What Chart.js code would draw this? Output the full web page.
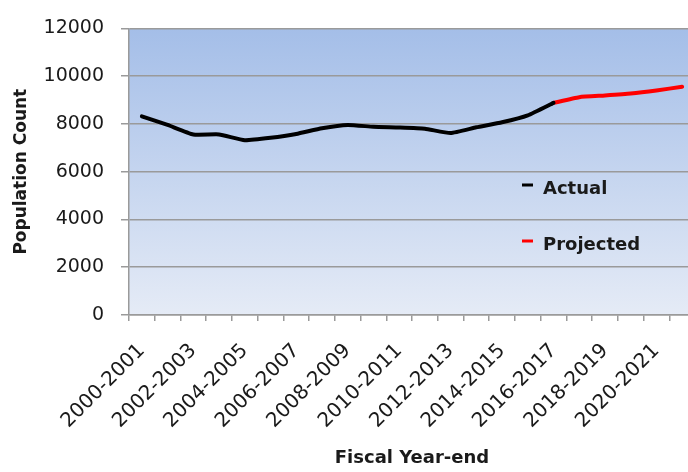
<!DOCTYPE html>
<html>
<head>
<meta charset="utf-8">
<script src="https://cdn.jsdelivr.net/npm/chart.js@4.4.1/dist/chart.umd.min.js"></script>
<style>
  html, body { margin: 0; padding: 0; background: #fff; overflow: hidden; }
  #wrap { width: 700px; height: 472px; }
</style>
</head>
<body>
<div id="wrap"><canvas id="canvas" width="700" height="472"></canvas></div>
<script>
// fiscal years on the x axis
var categories = ['2000-2001', '2001-2002', '2002-2003', '2003-2004', '2004-2005', '2005-2006',
  '2006-2007', '2007-2008', '2008-2009', '2009-2010', '2010-2011', '2011-2012',
  '2012-2013', '2013-2014', '2014-2015', '2015-2016', '2016-2017', '2017-2018',
  '2018-2019', '2019-2020', '2020-2021', '2021-2022'];

// population counts
var actual = [8320, 7960, 7560, 7560, 7320, 7420, 7580, 7820, 7960, 7880, 7850,
  7800, 7620, 7860, 8070, 8360, 8880];
var projected = [null, null, null, null, null, null, null, null, null, null, null,
  null, null, null, null, null, 8880, 9120, 9190, 9270, 9400, 9560];

var yTicks = { min: 0, max: 12000, step: 2000 };

Chart.defaults.font.family = 'DejaVu Sans';
Chart.defaults.color = '#1a1a1a';

// plot area gradient
var bgPlugin = {
  id: 'plotBg',
  beforeDraw: function(chart) {
    var a = chart.chartArea, c = chart.ctx;
    var g = c.createLinearGradient(0, a.top, 0, a.bottom);
    g.addColorStop(0, '#a4bee8');
    g.addColorStop(1, '#e5ebf6');
    c.save();
    c.fillStyle = g;
    c.fillRect(a.left, a.top, a.right - a.left, a.bottom - a.top);
    c.restore();
  }
};

// legend sitting inside the plot, like the original
var insideLegend = {
  id: 'insideLegend',
  afterDraw: function(chart) {
    var a = chart.chartArea, c = chart.ctx;
    var x = a.right - 173, y = 189;
    c.save();
    c.font = 'bold 18px "DejaVu Sans"';
    c.textBaseline = 'middle';
    chart.data.datasets.forEach(function(ds, i) {
      var yy = y + i * 56;
      c.strokeStyle = ds.borderColor;
      c.lineWidth = 3;
      c.beginPath();
      c.moveTo(x, yy - 4);
      c.lineTo(x + 11, yy - 4);
      c.stroke();
      c.fillStyle = '#1a1a1a';
      c.fillText(ds.label, x + 21, yy);
    });
    c.restore();
  }
};

new Chart(document.getElementById('canvas'), {
  type: 'line',
  data: {
    labels: categories,
    datasets: [
      {
        label: 'Actual',
        data: actual,
        borderColor: '#000000',
        borderWidth: 4,
        pointRadius: 0,
        tension: 0.15,
        borderCapStyle: 'round'
      },
      {
        label: 'Projected',
        data: projected,
        borderColor: '#ff0000',
        borderWidth: 4,
        pointRadius: 0,
        tension: 0.15,
        borderCapStyle: 'round'
      }
    ]
  },
  options: {
    responsive: false,
    animation: false,
    layout: { padding: { top: 16, right: 5, left: 0, bottom: 0 } },
    plugins: {
      legend: { display: false },
      tooltip: { enabled: false }
    },
    scales: {
      x: {
        offset: true,
        afterFit: function(s) {
          s.height = 157;
          s.paddingLeft = 0;
          s.paddingRight = 0;
        },
        grid: {
          offset: true,
          drawOnChartArea: false,
          drawTicks: true,
          tickLength: 6,
          color: '#9a9a9a',
          lineWidth: 1.5
        },
        border: { color: '#9a9a9a', width: 1.5 },
        ticks: {
          autoSkip: false,
          minRotation: 45,
          maxRotation: 45,
          padding: 18,
          font: { size: 20 },
          callback: function(v, i) { return i % 2 === 0 ? categories[i] : ''; }
        },
        title: {
          display: true,
          text: 'Fiscal Year-end',
          font: { size: 18, weight: 'bold' },
          padding: { top: 0, bottom: 3 }
        }
      },
      y: {
        min: yTicks.min,
        max: yTicks.max,
        afterFit: function(s) { s.width = 129; },
        grid: {
          color: '#9a9a9a',
          lineWidth: 1.5,
          tickLength: 8
        },
        border: { color: '#9a9a9a', width: 1.5 },
        ticks: {
          stepSize: yTicks.step,
          padding: 17,
          font: { size: 19 },
          callback: function(v) { return String(v); }
        },
        title: {
          display: true,
          text: 'Population Count',
          font: { size: 17, weight: 'bold' },
          padding: { top: 11, bottom: 0 }
        }
      }
    }
  },
  plugins: [bgPlugin, insideLegend]
});
</script>
</body>
</html>
